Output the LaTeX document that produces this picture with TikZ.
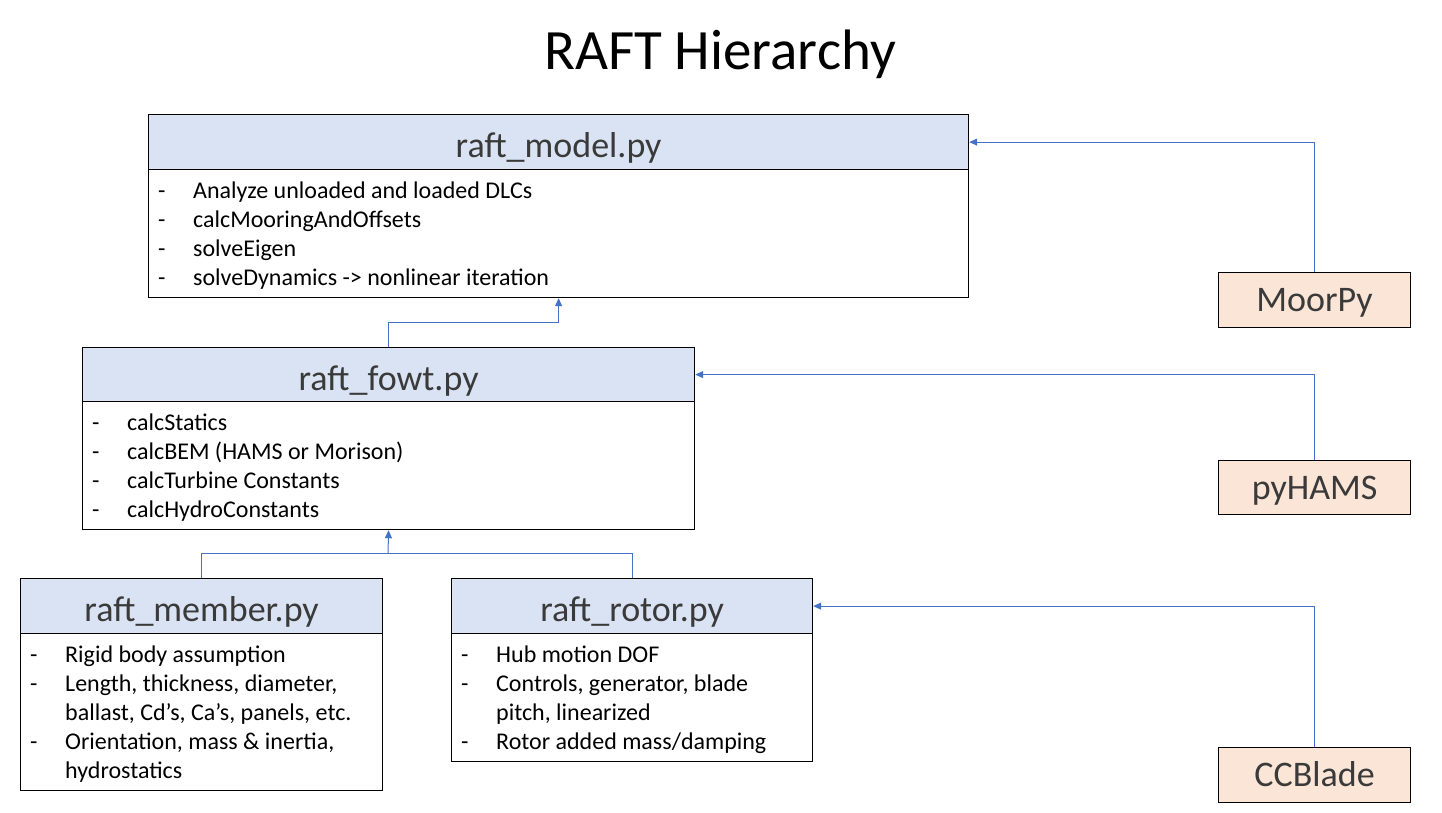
\documentclass[tikz,border=0pt]{standalone}
\usepackage{fontspec}
\setmainfont{Carlito}
\usetikzlibrary{arrows.meta}
\definecolor{hdrblue}{HTML}{DAE3F3}
\definecolor{extorange}{HTML}{FBE5D6}
\definecolor{linkblue}{HTML}{4472C4}
\definecolor{hdrtext}{HTML}{3A3A3A}
\tikzset{
  hdr/.style={draw=black, line width=1.2pt, fill=hdrblue, inner sep=0pt, anchor=north west,
    text=hdrtext, font=\fontsize{36}{42}\selectfont, text height=31pt, text depth=0pt},
  bodybox/.style={draw=black, line width=1.2pt, fill=white, inner sep=0pt, anchor=north west},
  bodytext/.style={inner sep=0pt, anchor=north west, align=left, font=\fontsize{24}{29}\selectfont},
  extbox/.style={draw=black, line width=1.2pt, fill=extorange, inner sep=0pt,
    minimum width=192pt, minimum height=55pt, anchor=north west,
    text=hdrtext, font=\fontsize{36}{42}\selectfont, text height=23pt, text depth=0pt},
  conn/.style={draw=linkblue, line width=1pt, -{Triangle[length=8pt,width=7pt]}},
  plain/.style={draw=linkblue, line width=1pt}
}
\newcommand{\bl}[1]{\begin{tabular}{@{}p{35pt}@{}l@{}}#1\end{tabular}}
\begin{document}
\begin{tikzpicture}[x=1pt,y=-1pt]
\useasboundingbox[fill=white] (0,0) rectangle (1442,813);
\node[font=\fontsize{57}{66}\selectfont] (title) at (720,54) {RAFT Hierarchy};

% raft_model
\node[hdr, minimum width=820pt, minimum height=55pt] (mh) at (148,114) {raft\_model.py};
\node[bodybox, minimum width=820pt, minimum height=128pt] (mb) at (148,169) {};
\node[bodytext] (mt) at (158,178) {\bl{- & Analyze unloaded and loaded DLCs\\
- & calcMooringAndOffsets\\
- & solveEigen\\
- & solveDynamics -> nonlinear iteration}};

% raft_fowt
\node[hdr, minimum width=612pt, minimum height=54pt] (fh) at (82,347) {raft\_fowt.py};
\node[bodybox, minimum width=612pt, minimum height=128pt] (fb) at (82,401) {};
\node[bodytext] (ft) at (92,410) {\bl{- & calcStatics\\
- & calcBEM (HAMS or Morison)\\
- & calcTurbine Constants\\
- & calcHydroConstants}};

% raft_member
\node[hdr, minimum width=362pt, minimum height=55pt] (memh) at (20,578) {raft\_member.py};
\node[bodybox, minimum width=362pt, minimum height=157pt] (memb) at (20,633) {};
\node[bodytext] (memt) at (30,642) {\bl{- & Rigid body assumption\\
- & Length, thickness, diameter,\\
 & ballast, Cd’s, Ca’s, panels, etc.\\
- & Orientation, mass \& inertia,\\
 & hydrostatics}};

% raft_rotor
\node[hdr, minimum width=361pt, minimum height=55pt] (roth) at (451,578) {raft\_rotor.py};
\node[bodybox, minimum width=361pt, minimum height=128pt] (rotb) at (451,633) {};
\node[bodytext] (rott) at (461,642) {\bl{- & Hub motion DOF\\
- & Controls, generator, blade\\
 & pitch, linearized\\
- & Rotor added mass/damping}};

% external packages
\node[extbox] (moor) at (1218,272) {MoorPy};
\node[extbox, minimum height=54pt] (hams) at (1218,460) {pyHAMS};
\node[extbox] (cc) at (1218,747) {CCBlade};

% connectors
\draw[conn] (moor.north) |- (mh.east);
\draw[conn] (hams.north) |- (fh.east);
\draw[conn] (cc.north) |- (roth.east);
\draw[conn] (fh.north) -- ++(0,-25) -| (mb.south);
\coordinate (j) at (388,553);
\draw[plain] (memh.north) |- (j);
\draw[plain] (roth.north) |- (j);
\draw[conn] (j) -- (fb.south);
\end{tikzpicture}
\end{document}
